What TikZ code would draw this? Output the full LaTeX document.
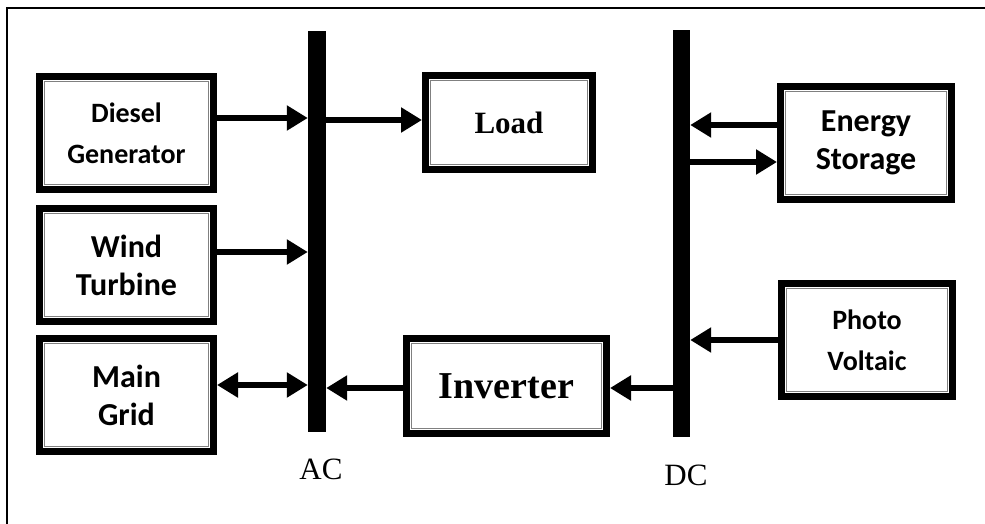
\documentclass[tikz,border=0pt]{standalone}
\usepackage{fontspec}
\setmainfont{Liberation Serif}
\newfontfamily\calfont{Carlito}
\usetikzlibrary{arrows.meta}
\begin{document}
\begin{tikzpicture}[x=1pt,y=-1pt,
  blk/.style={draw,line width=7pt,align=center,inner sep=0pt},
  inner/.style={draw=black!50,line width=1pt},
  bus/.style={fill=black,draw=none,inner sep=0pt,minimum width=18pt},
  arr/.style={line width=6pt,-{Triangle[length=21pt,width=24pt]}},
  darr/.style={line width=6pt,{Triangle[length=21pt,width=24pt]}-{Triangle[length=21pt,width=24pt]}},
  sfA/.style={font=\calfont\bfseries\fontsize{28}{41}\selectfont},
  sfB/.style={font=\calfont\bfseries\fontsize{32}{38}\selectfont},
  lbl/.style={font=\fontsize{31}{36}\selectfont,inner sep=0pt}]
\useasboundingbox (0,0) rectangle (985,524);
\draw[line width=1.2pt] (7,524) -- (7,8) -- (985,8);
% buses
\node[bus,minimum height=401pt] (ac) at (317,231.5) {};
\node[bus,minimum height=407pt,minimum width=17pt] (dc) at (681.5,233.5) {};
% boxes
\node[blk,sfA,minimum width=174pt,minimum height=113pt] (dg) at (126.5,133) {Diesel\\Generator};
\node[blk,sfB,minimum width=174pt,minimum height=113pt] (wt) at (126.5,265) {Wind\\Turbine};
\node[blk,sfB,minimum width=174pt,minimum height=113pt] (mg) at (126.5,395) {Main\\Grid};
\node[blk,font=\bfseries\fontsize{31}{36}\selectfont,minimum width=167pt,minimum height=94pt] (ld) at (509,122.5) {Load};
\node[blk,font=\bfseries\fontsize{38}{40}\selectfont,minimum width=200pt,minimum height=95pt] (inv) at (506.5,386) {Inverter};
\node[blk,sfB,minimum width=171pt,minimum height=113pt] (es) at (866,143) {Energy\\Storage};
\node[blk,sfA,minimum width=171pt,minimum height=113pt] (pv) at (867,340) {Photo\\Voltaic};
\foreach \n in {dg,wt,mg,ld,inv,es,pv}{
  \draw[inner] ([shift={(8.3pt,-8.3pt)}]\n.north west) rectangle ([shift={(-8.3pt,8.3pt)}]\n.south east);
}
% labels
\node[lbl] (aclbl) at (321,469) {AC};
\node[lbl] (dclbl) at (686,475) {DC};
% connectors
\coordinate (dgo) at ([yshift=15pt]dg.east);
\draw[arr] (dgo) -- (dgo -| ac.west);
\coordinate (wto) at ([yshift=13pt]wt.east);
\draw[arr] (wto) -- (wto -| ac.west);
\coordinate (mgo) at ([yshift=10pt]mg.east);
\draw[darr] (mgo) -- (mgo -| ac.west);
\coordinate (ldi) at ([yshift=2.5pt]ld.west);
\draw[arr] (ldi -| ac.east) -- (ldi);
\coordinate (invl) at ([yshift=-2pt]inv.west);
\draw[arr] (invl) -- (invl -| ac.east);
\coordinate (invr) at ([yshift=-2pt]inv.east);
\draw[arr] (invr -| dc.west) -- (invr);
\coordinate (es1) at ([yshift=18pt]es.west);
\draw[arr] (es1) -- (es1 -| dc.east);
\coordinate (es2) at ([yshift=-19pt]es.west);
\draw[arr] (es2 -| dc.east) -- (es2);
\coordinate (pvi) at (pv.west);
\draw[arr] (pvi) -- (pvi -| dc.east);
\end{tikzpicture}
\end{document}
